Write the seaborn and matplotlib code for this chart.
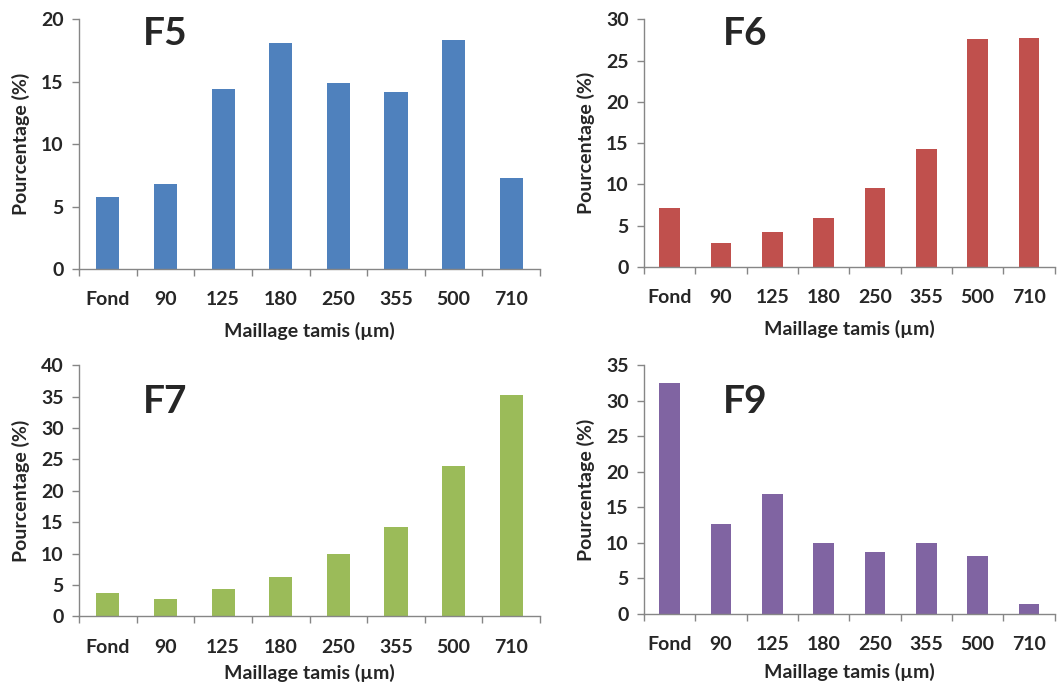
import pandas as pd
import matplotlib
matplotlib.use("Agg")
import matplotlib.pyplot as plt
import seaborn as sns

# sieve mesh categories
mesh = ["Fond", "90", "125", "180", "250", "355", "500", "710"]

# percentages
f5 = [5.8, 6.8, 14.4, 18.1, 14.9, 14.2, 18.3, 7.3]
f6 = [7.1, 2.9, 4.2, 5.9, 9.6, 14.3, 27.6, 27.7]
f7 = [3.8, 2.8, 4.3, 6.3, 10.0, 14.2, 23.9, 35.2]
f9 = [32.5, 12.6, 16.9, 10.0, 8.7, 9.9, 8.1, 1.3]

names = ["F5", "F6", "F7", "F9"]
colors = ["#4F81BD", "#C0504D", "#9BBB59", "#8064A2"]
ymax = [20, 30, 40, 35]

sns.set_style("white")
plt.rcParams['font.family'] = ['Lato', 'DejaVu Sans']
plt.rcParams['font.weight'] = 'bold'

fig = plt.figure(figsize=(10.6, 6.88), dpi=100)

# axes boxes [left, bottom, width, height] in figure fractions
boxes = [
    [0.0745, 0.609, 0.435, 0.363],
    [0.6075, 0.612, 0.3875, 0.360],
    [0.0745, 0.104, 0.435, 0.365],
    [0.6075, 0.108, 0.3875, 0.361],
]
title_pos = [(0.139, 0.897), (0.192, 0.896), (0.139, 0.811), (0.192, 0.809)]
xlab_pad = [10, 10, 6, 7]

for i, vals in enumerate([f5, f6, f7, f9]):
    ax = fig.add_axes(boxes[i])
    df = pd.DataFrame({"mesh": mesh, "pct": vals})
    sns.barplot(data=df, x="mesh", y="pct", color=colors[i], width=0.4,
                saturation=1, edgecolor="none", ax=ax)

    ax.set_xlim(-0.5, len(mesh) - 0.5)
    ax.set_ylim(0, ymax[i])
    ax.set_yticks(range(0, ymax[i] + 1, 5))

    # ticks between categories, labels centred under bars
    ax.set_xticks([k - 0.5 for k in range(len(mesh) + 1)])
    ax.set_xticklabels([])
    ax.set_xticks(range(len(mesh)), minor=True)
    ax.set_xticklabels(mesh, minor=True)
    ax.tick_params(axis="x", which="major", length=5, width=1, color="#868686", direction="out", bottom=True)
    ax.tick_params(axis="x", which="minor", length=0, pad=16, labelsize=14)
    ax.tick_params(axis="y", length=5, width=1, color="#868686", direction="out", left=True, pad=6, labelsize=14)

    for s in ["top", "right"]:
        ax.spines[s].set_visible(False)
    for s in ["left", "bottom"]:
        ax.spines[s].set_color("#868686")
        ax.spines[s].set_linewidth(1)

    ax.set_xlabel("Maillage tamis (µm)", fontsize=14, fontweight="bold", labelpad=xlab_pad[i])
    ax.set_ylabel("Pourcentage (%)", fontsize=14, fontweight="bold", labelpad=8)

    ax.text(title_pos[i][0], title_pos[i][1], names[i], transform=ax.transAxes,
            fontsize=28, fontweight="bold", va="baseline", ha="left")

fig.savefig("out.png", dpi=100)
